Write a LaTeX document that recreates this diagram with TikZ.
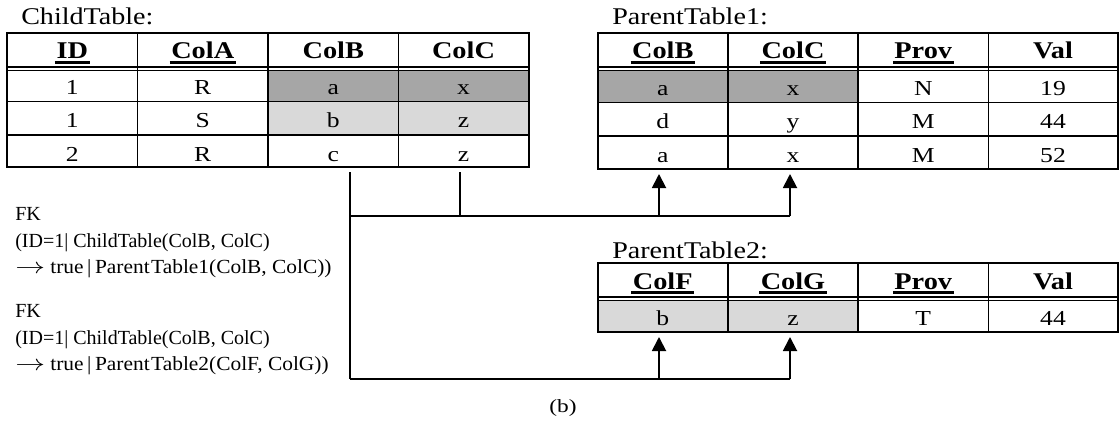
\documentclass[tikz,border=0pt]{standalone}
\usepackage{fontspec}
\setmainfont{Liberation Serif}
\usetikzlibrary{arrows.meta}
\newsavebox{\kbox}
\newcommand{\keyu}[1]{\sbox{\kbox}{#1}\rlap{\hspace{-1pt}\raisebox{-3.6pt}{\rule{\dimexpr\wd\kbox+2pt\relax}{1.9pt}}}\usebox{\kbox}}
\newcommand{\wx}[2]{\scalebox{#1}[1]{#2}}
\definecolor{darkcell}{HTML}{A6A6A6}
\definecolor{lightcell}{HTML}{D9D9D9}
\tikzset{
  outer/.style={line width=1.5pt},
  inner/.style={line width=0.9pt},
  thinl/.style={line width=0.7pt},
  cell/.style={anchor=base, inner sep=0pt, font=\fontsize{16}{19}\selectfont},
  hdr/.style={anchor=base, inner sep=0pt, font=\fontsize{18}{20}\selectfont\bfseries},
  ttl/.style={anchor=base west, inner sep=0pt, font=\fontsize{18}{21}\selectfont},
  fk/.style={anchor=base west, inner sep=0pt, font=\fontsize{15}{17}\selectfont},
  conn/.style={line width=1.4pt},
  arr/.style={line width=1.4pt, -{Triangle[width=10.5pt,length=10.5pt]}}
}
\newcommand{\dc}[1]{\wx{1.2}{#1}}
\newcommand{\hc}[1]{\wx{1.18}{#1}}
\newcommand{\farr}{\raisebox{-0.5pt}{\scalebox{1.45}[1.15]{$\rightarrow$}}}
\newcommand{\bsp}{\hspace{2.5pt}}
\begin{document}
\begin{tikzpicture}[x=0.75pt,y=-0.75pt]
\useasboundingbox (0,0) rectangle (1119,428);
% ---------- ChildTable ----------
\node[ttl] (ctitle) at (21,25) {\wx{1.17}{ChildTable:}};
\fill[darkcell] (268,70) rectangle (528.5,101.5);
\fill[lightcell] (268,101.5) rectangle (528.5,135);
\foreach \x in {137.5,268,398.5} \draw[inner] (\x,33) -- (\x,167);
\draw[inner] (7,101.5) -- (528.5,101.5);
\draw[inner] (7,135) -- (528.5,135);
\draw[outer] (7,67) -- (528.5,67);
\draw[thinl] (7,70.3) -- (528.5,70.3);
\draw[outer] (7,33) rectangle (528.5,167);
\node[hdr] (ch1) at (72.25,59) {\hc{\keyu{ID}}};
\node[hdr] (ch2) at (202.75,59) {\hc{\keyu{ColA}}};
\node[hdr] (ch3) at (333.25,59) {\hc{ColB}};
\node[hdr] (ch4) at (463.5,59) {\hc{ColC}};
\node[cell] (c11) at (72.25,94) {\dc{1}};
\node[cell] (c12) at (202.75,94) {\dc{R}};
\node[cell] (c13) at (333.25,94) {\dc{a}};
\node[cell] (c14) at (463.5,94) {\dc{x}};
\node[cell] (c21) at (72.25,127.5) {\dc{1}};
\node[cell] (c22) at (202.75,127.5) {\dc{S}};
\node[cell] (c23) at (333.25,127.5) {\dc{b}};
\node[cell] (c24) at (463.5,127.5) {\dc{z}};
\node[cell] (c31) at (72.25,161) {\dc{2}};
\node[cell] (c32) at (202.75,161) {\dc{R}};
\node[cell] (c33) at (333.25,161) {\dc{c}};
\node[cell] (c34) at (463.5,161) {\dc{z}};
% ---------- ParentTable1 ----------
\node[ttl] (p1title) at (612,25) {\wx{1.17}{ParentTable1:}};
\fill[darkcell] (597.5,70) rectangle (858,102.5);
\foreach \x in {728,858,988.5} \draw[inner] (\x,33) -- (\x,169);
\draw[inner] (597.5,102.5) -- (1117.5,102.5);
\draw[inner] (597.5,136) -- (1117.5,136);
\draw[outer] (597.5,67) -- (1117.5,67);
\draw[thinl] (597.5,70.3) -- (1117.5,70.3);
\draw[outer] (597.5,33) rectangle (1117.5,169);
\node[hdr] (ph1) at (662.75,59) {\hc{\keyu{ColB}}};
\node[hdr] (ph2) at (793,59) {\hc{\keyu{ColC}}};
\node[hdr] (ph3) at (923.25,59) {\hc{\keyu{Prov}}};
\node[hdr] (ph4) at (1053,59) {\hc{Val}};
\node[cell] (p11) at (662.75,95) {\dc{a}};
\node[cell] (p12) at (793,95) {\dc{x}};
\node[cell] (p13) at (923.25,95) {\dc{N}};
\node[cell] (p14) at (1053,95) {\dc{19}};
\node[cell] (p21) at (662.75,128.5) {\dc{d}};
\node[cell] (p22) at (793,128.5) {\dc{y}};
\node[cell] (p23) at (923.25,128.5) {\dc{M}};
\node[cell] (p24) at (1053,128.5) {\dc{44}};
\node[cell] (p31) at (662.75,162) {\dc{a}};
\node[cell] (p32) at (793,162) {\dc{x}};
\node[cell] (p33) at (923.25,162) {\dc{M}};
\node[cell] (p34) at (1053,162) {\dc{52}};
% ---------- ParentTable2 ----------
\node[ttl] (p2title) at (612,258) {\wx{1.17}{ParentTable2:}};
\fill[lightcell] (597.5,300) rectangle (858,332);
\foreach \x in {728,858,988.5} \draw[inner] (\x,263) -- (\x,332);
\draw[outer] (597.5,297) -- (1117.5,297);
\draw[thinl] (597.5,300.3) -- (1117.5,300.3);
\draw[outer] (597.5,263) rectangle (1117.5,332);
\node[hdr] (qh1) at (662.75,289) {\hc{\keyu{ColF}}};
\node[hdr] (qh2) at (793,289) {\hc{\keyu{ColG}}};
\node[hdr] (qh3) at (923.25,289) {\hc{\keyu{Prov}}};
\node[hdr] (qh4) at (1053,289) {\hc{Val}};
\node[cell] (q11) at (662.75,325) {\dc{b}};
\node[cell] (q12) at (793,325) {\dc{z}};
\node[cell] (q13) at (923.25,325) {\dc{T}};
\node[cell] (q14) at (1053,325) {\dc{44}};
% ---------- connectors ----------
\coordinate (sB) at (350,172);
\coordinate (sC) at (460,172);
\coordinate (j1) at (350,216);
\coordinate (j2) at (460,216);
\coordinate (k1) at (659,216);
\coordinate (k2) at (790,216);
\coordinate (t1) at (659,174);
\coordinate (t2) at (790,174);
\coordinate (j3) at (350,379);
\coordinate (k3) at (659,379);
\coordinate (k4) at (790,379);
\coordinate (t3) at (659,337);
\coordinate (t4) at (790,337);
\draw[conn] (sB) -- (j1) -- (j3);
\draw[conn] (sC) -- (j2);
\draw[conn] (j1) -- (k2);
\draw[arr] (k1) -- (t1);
\draw[arr] (k2) -- (t2);
\draw[conn] (j3) -- (k4);
\draw[arr] (k3) -- (t3);
\draw[arr] (k4) -- (t4);
% ---------- FK text ----------
\node[fk] (fa1) at (15,220) {FK};
\node[fk] (fa2) at (15,247) {(ID=1| ChildTable(ColB, ColC)};
\node[fk] (fa3) at (15,273) {\wx{1.07}{\farr\ true\bsp|\bsp Parent\hspace{1pt}Table1(ColB, ColC))}};
\node[fk] (fb1) at (15,317) {FK};
\node[fk] (fb2) at (15,344) {(ID=1| ChildTable(ColB, ColC)};
\node[fk] (fb3) at (15,370) {\wx{1.07}{\farr\ true\bsp|\bsp Parent\hspace{1pt}Table2(ColF, ColG))}};
\node[anchor=base, inner sep=0pt, font=\fontsize{14}{17}\selectfont] (cap) at (563,412) {\wx{1.25}{(b)}};
\end{tikzpicture}
\end{document}
